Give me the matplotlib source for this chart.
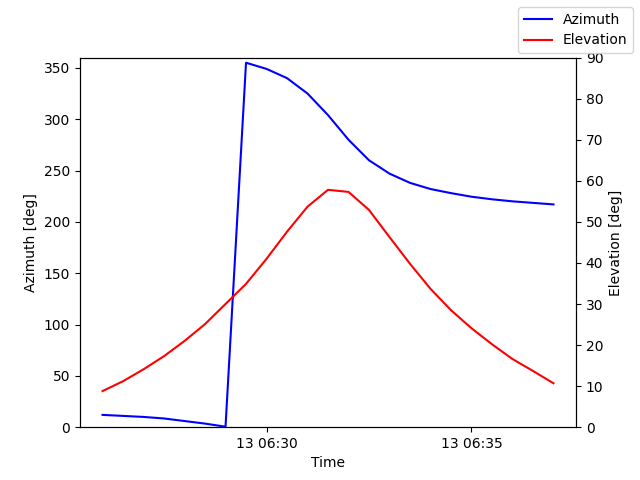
import matplotlib
matplotlib.use("Agg")
import matplotlib.pyplot as plt
import matplotlib.dates as mdates
import pandas as pd

times = pd.date_range("2024-01-13 06:26:00", "2024-01-13 06:37:00", freq="30s")
azimuth = [12, 11, 10, 8.5, 6, 3.5, 0.5, 355, 349, 340, 325, 304, 280, 260, 247, 238,
           232, 228, 224.5, 222, 220, 218.5, 217]
elevation = [8.8, 11.2, 14.1, 17.3, 21, 25.1, 30, 34.9, 41, 47.6, 53.7, 57.8, 57.3, 52.9,
             46.3, 39.8, 33.7, 28.5, 24.1, 20.2, 16.6, 13.7, 10.7]

fig, ax = plt.subplots(figsize=(6.4, 4.8), dpi=100)
ax.plot(times, azimuth, color="blue", label="Azimuth")
ax.set_ylim(0, 360)
ax.set_xlabel("Time")
ax.set_ylabel("Azimuth [deg]")
ax2 = ax.twinx()
ax2.plot(times, elevation, color="red", label="Elevation")
ax2.set_ylim(0, 90)
ax2.set_ylabel("Elevation [deg]")
ax.xaxis.set_major_locator(mdates.MinuteLocator(byminute=range(0, 60, 5)))
ax.xaxis.set_major_formatter(mdates.DateFormatter("%d %H:%M"))
fig.legend(loc="upper right")
fig.savefig("out.png")
